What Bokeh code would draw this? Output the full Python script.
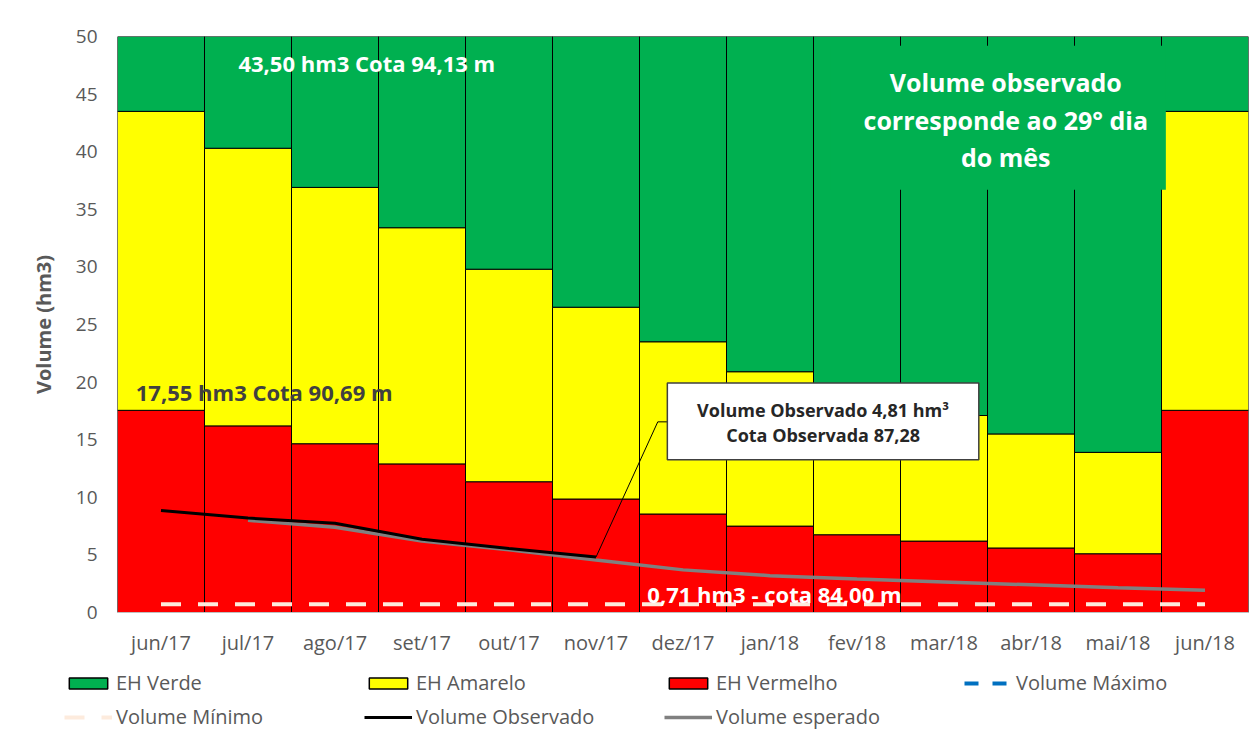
from bokeh.plotting import figure
from bokeh.models import FactorRange, Legend, LegendItem, Range1d
from bokeh.layouts import column
from bokeh.core.properties import value
from bokeh.embed import file_html
from bokeh.resources import INLINE

nan = float("nan")

# ---- data ----
meses = ["jun/17", "jul/17", "ago/17", "set/17", "out/17", "nov/17", "dez/17",
         "jan/18", "fev/18", "mar/18", "abr/18", "mai/18", "jun/18"]
lim_vermelho = [17.55, 16.2, 14.65, 12.9, 11.35, 9.85, 8.55, 7.5, 6.75, 6.2, 5.6, 5.1, 17.55]
lim_amarelo = [43.5, 40.3, 36.9, 33.4, 29.8, 26.5, 23.5, 20.9, 19.0, 17.1, 15.5, 13.9, 43.5]
lim_verde = [50, 50, 50, 50, 50, 50, 50, 50, 50, 50, 50, 50, 50]
vol_observado = [8.85, 8.2, 7.75, 6.35, 5.55, 4.81, nan, nan, nan, nan, nan, nan, nan]
vol_esperado = [nan, 8.0, 7.4, 6.2, 5.45, 4.55, 3.7, 3.2, 2.9, 2.65, 2.4, 2.15, 1.93]
vol_minimo = [0.71, 0.71, 0.71, 0.71, 0.71, 0.71, 0.71, 0.71, 0.71, 0.71, 0.71, 0.71, 0.71]
vol_maximo = [nan, nan, nan, nan, nan, nan, nan, nan, nan, nan, nan, nan, nan]
y_ticks = [0, 5, 10, 15, 20, 25, 30, 35, 40, 45, 50]
legend_labels = ["EH Verde", "EH Amarelo", "EH Vermelho", "Volume Máximo",
                 "Volume Mínimo", "Volume Observado", "Volume esperado"]

VERDE = "#00B050"
AMARELO = "#FFFF00"
VERMELHO = "#FF0000"
AZUL = "#0070C0"
MINIMO = "#FDEBDD"
CINZA_LINHA = "#808080"
CINZA_TXT = "#595959"
FONT = "Open Sans"

p = figure(x_range=FactorRange(*meses, range_padding=0), y_range=(0, 50),
           width=1249, height=658, output_backend="svg", toolbar_location=None,
           min_border_left=117, min_border_right=1, min_border_top=36, min_border_bottom=46)
p.frame_align = False
p.outline_line_color = None
p.xgrid.grid_line_color = None
p.ygrid.grid_line_color = None

# stacked increments
src = dict(
    meses=meses,
    vermelho=lim_vermelho,
    amarelo=[a - v for a, v in zip(lim_amarelo, lim_vermelho)],
    verde=[g - a for g, a in zip(lim_verde, lim_amarelo)],
)
p.vbar_stack(["vermelho", "amarelo", "verde"], x="meses", width=1.0, source=src,
             fill_color=[VERMELHO, AMARELO, VERDE], line_color="black", line_width=1)

p.line(meses, vol_minimo, line_color=MINIMO, line_width=4, line_dash="20 17")
p.line(meses, vol_maximo, line_color=AZUL, line_width=4, line_dash="14 14")
p.line(meses, vol_esperado, line_color=CINZA_LINHA, line_width=3.5)
p.line(meses, vol_observado, line_color="black", line_width=3)

# green info box
p.quad(left=[8.2], right=[12.05], top=[49.2], bottom=[36.7], fill_color=VERDE, line_color=None)
p.text(x=[10.21, 10.21, 10.21], y=[46.05, 42.75, 39.5],
       text=["Volume observado", "corresponde ao 29° dia", "do mês"],
       text_font=value(FONT), text_font_style="bold", text_font_size="25px",
       text_color="white", text_align="center", text_baseline="middle")

# annotations
p.text(x=[1.39], y=[47.7], text=["43,50 hm3 Cota 94,13 m"], text_font=value(FONT),
       text_font_style="bold", text_font_size="22px", text_color="white",
       text_align="left", text_baseline="middle")
p.text(x=[0.21], y=[19.15], text=["17,55 hm3 Cota 90,69 m"], text_font=value(FONT),
       text_font_style="bold", text_font_size="22px", text_color="#404040",
       text_align="left", text_baseline="middle")
p.text(x=[6.09], y=[1.6], text=["0,71 hm3 - cota 84,00 m"], text_font=value(FONT),
       text_font_style="bold", text_font_size="22px", text_color="white",
       text_align="left", text_baseline="middle")

# callout
p.line(x=[5.5, 6.21, 6.32], y=[vol_observado[5], 16.55, 16.55], line_color="black", line_width=1)
p.quad(left=[6.32], right=[9.9], top=[19.93], bottom=[13.26], fill_color="white",
       line_color="#404040", line_width=1.5)
p.text(x=[8.11, 8.11], y=[17.58, 15.4],
       text=["Volume Observado 4,81 hm³", "Cota Observada 87,28"],
       text_font=value(FONT), text_font_style="bold", text_font_size="18px",
       text_color="#262626", text_align="center", text_baseline="middle")

# axes
p.yaxis.ticker = y_ticks
p.yaxis.axis_line_color = None
p.yaxis.major_tick_line_color = None
p.yaxis.major_tick_out = 0
p.yaxis.minor_tick_line_color = None
p.yaxis.major_label_text_font = FONT
p.yaxis.major_label_text_font_size = "19px"
p.yaxis.major_label_text_color = CINZA_TXT
p.yaxis.major_label_standoff = 20
p.yaxis.axis_label = "Volume (hm3)"
p.yaxis.axis_label_text_font = FONT
p.yaxis.axis_label_text_font_style = "bold"
p.yaxis.axis_label_text_font_size = "20px"
p.yaxis.axis_label_text_color = CINZA_TXT
p.yaxis.axis_label_standoff = 16

p.xaxis.axis_line_color = "#BFBFBF"
p.xaxis.major_tick_line_color = None
p.xaxis.major_tick_out = 0
p.xaxis.minor_tick_line_color = None
p.xaxis.major_label_text_font = FONT
p.xaxis.major_label_text_font_size = "20px"
p.xaxis.major_label_text_color = CINZA_TXT
p.xaxis.major_label_standoff = 16

# ---- legend strip ----
q = figure(width=1249, height=72, x_range=Range1d(0, 1249), y_range=Range1d(0, 72),
           output_backend="svg", toolbar_location=None, x_axis_type=None, y_axis_type=None,
           min_border=0, min_border_left=0, min_border_right=0, min_border_top=0,
           min_border_bottom=0)
q.frame_align = False
q.outline_line_color = None
q.xgrid.grid_line_color = None
q.ygrid.grid_line_color = None
g_verde = q.vbar(x=[nan], top=[nan], width=1, fill_color=VERDE, line_color="black", line_width=1.5)
g_amar = q.vbar(x=[nan], top=[nan], width=1, fill_color=AMARELO, line_color="black", line_width=1.5)
g_verm = q.vbar(x=[nan], top=[nan], width=1, fill_color=VERMELHO, line_color="black", line_width=1.5)
g_max = q.line(x=[nan], y=[nan], line_color=AZUL, line_width=4, line_dash="14 14")
g_min = q.line(x=[nan], y=[nan], line_color=MINIMO, line_width=4, line_dash="20 17")
g_obs = q.line(x=[nan], y=[nan], line_color="black", line_width=3)
g_esp = q.line(x=[nan], y=[nan], line_color=CINZA_LINHA, line_width=3.5)
rends = [g_verde, g_amar, g_verm, g_max, g_min, g_obs, g_esp]

legend = Legend(items=[LegendItem(label=l, renderers=[r]) for l, r in zip(legend_labels, rends)],
                ncols=4, location=(64, 0), orientation="horizontal",
                glyph_width=48, glyph_height=14, label_standoff=4, label_width=241,
                label_height=26, spacing=7, padding=0, margin=0,
                border_line_color=None, background_fill_alpha=0,
                label_text_font=FONT, label_text_font_size="20px", label_text_color=CINZA_TXT)
q.add_layout(legend, "center")

open("out.html", "w").write(file_html(column(p, q, spacing=0), INLINE))
